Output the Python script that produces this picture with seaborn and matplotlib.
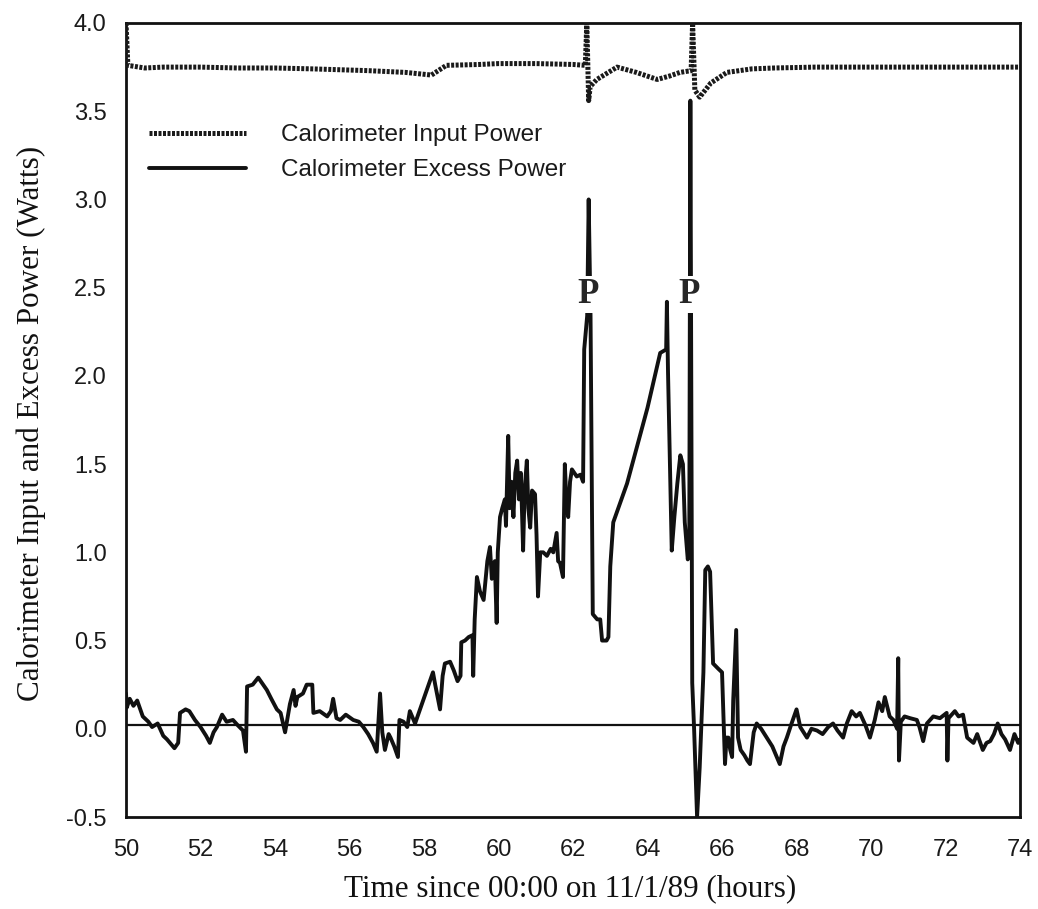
import numpy as np
import pandas as pd
import matplotlib
matplotlib.use("Agg")
import matplotlib.pyplot as plt
import seaborn as sns
from matplotlib.lines import Line2D

# ---------------- data ----------------
input_time = [50.0, 50.05, 50.5, 51.0, 52.0, 53.0, 54.0, 55.0, 56.5, 57.5, 58.2, 58.6,
              59.5, 60.0, 61.0, 62.0, 62.33, 62.37, 62.42, 62.46, 62.64, 63.18, 63.7,
              64.26, 64.6, 64.87, 65.17, 65.21, 65.27, 65.4, 65.7, 66.13, 66.8, 67.4,
              68.5, 70.0, 71.5, 73.0, 74.0]
input_power = [4.0, 3.76, 3.745, 3.75, 3.75, 3.745, 3.745, 3.74, 3.73, 3.72, 3.705, 3.76,
               3.765, 3.77, 3.77, 3.765, 3.76, 4.0, 3.56, 3.64, 3.68, 3.75, 3.72,
               3.68, 3.70, 3.72, 3.73, 4.0, 3.62, 3.58, 3.66, 3.72, 3.74, 3.745,
               3.75, 3.75, 3.75, 3.75, 3.75]

excess_time = [50.00, 50.02, 50.1, 50.2, 50.3, 50.45, 50.6, 50.7, 50.85, 51.0, 51.1, 51.3,
               51.4, 51.45, 51.6, 51.7, 51.85, 52.0, 52.15, 52.25, 52.35, 52.44, 52.58,
               52.7, 52.87, 53.0, 53.14, 53.22, 53.25, 53.4, 53.55, 53.65, 53.78, 53.9,
               54.05, 54.15, 54.27, 54.35, 54.4, 54.5, 54.55, 54.6, 54.75, 54.85, 55.0,
               55.03, 55.2, 55.4, 55.5, 55.56, 55.65, 55.75, 55.9, 56.1, 56.25, 56.37,
               56.5, 56.63, 56.73, 56.78, 56.82, 56.88, 56.95, 57.05, 57.1, 57.2, 57.3,
               57.34, 57.45, 57.55, 57.62, 57.7, 57.76, 58.24, 58.3, 58.43, 58.5, 58.56,
               58.7, 58.8, 58.9, 58.98, 59.0, 59.1, 59.2, 59.3, 59.32, 59.36, 59.42,
               59.5, 59.6, 59.7, 59.77, 59.82, 59.9, 59.95, 59.98, 60.04, 60.1, 60.17,
               60.2, 60.26, 60.3, 60.35, 60.4, 60.45, 60.5, 60.55, 60.6, 60.66, 60.7,
               60.76, 60.8, 60.85, 60.9, 60.98, 61.02, 61.06, 61.12, 61.2, 61.3, 61.4,
               61.47, 61.56, 61.6, 61.65, 61.73, 61.78, 61.82, 61.87, 61.92, 61.97,
               62.1, 62.2, 62.27, 62.3, 62.38, 62.42, 62.47, 62.5, 62.53, 62.65, 62.73,
               62.78, 62.9, 62.95, 63.0, 63.08, 63.45, 64.0, 64.34, 64.5, 64.52, 64.55,
               64.6, 64.65, 64.72, 64.8, 64.88, 64.95, 65.0, 65.08, 65.12, 65.15, 65.2,
               65.25, 65.33, 65.38, 65.4, 65.5, 65.55, 65.62, 65.68, 65.76, 65.9, 66.0,
               66.08, 66.12, 66.17, 66.22, 66.27, 66.3, 66.38, 66.43, 66.5, 66.6, 66.68,
               66.75, 66.85, 66.93, 67.05, 67.2, 67.35, 67.55, 67.65, 67.74, 67.85, 68.0,
               68.1, 68.28, 68.4, 68.55, 68.7, 68.85, 68.98, 69.1, 69.25, 69.35, 69.48,
               69.6, 69.7, 69.85, 69.97, 70.1, 70.2, 70.3, 70.37, 70.5, 70.6, 70.7,
               70.73, 70.75, 70.8, 70.9, 71.05, 71.23, 71.3, 71.4, 71.5, 71.67, 71.85,
               72.03, 72.05, 72.08, 72.25, 72.35, 72.47, 72.58, 72.75, 72.85, 73.0, 73.1,
               73.2, 73.3, 73.4, 73.5, 73.6, 73.73, 73.85, 73.95, 74.0]
excess_power = [0.20, 0.12, 0.17, 0.13, 0.16, 0.07, 0.04, 0.01, 0.03, -0.04, -0.06, -0.11,
                -0.08, 0.09, 0.11, 0.10, 0.05, 0.01, -0.04, -0.08, -0.02, 0.01, 0.08,
                0.04, 0.05, 0.02, -0.01, -0.13, 0.24, 0.25, 0.29, 0.26, 0.22, 0.17,
                0.11, 0.09, -0.02, 0.08, 0.14, 0.22, 0.13, 0.18, 0.20, 0.25, 0.25,
                0.09, 0.10, 0.07, 0.10, 0.17, 0.06, 0.05, 0.08, 0.05, 0.04, 0.01,
                -0.03, -0.08, -0.13, 0.05, 0.20, -0.02, -0.12, -0.03, -0.05, -0.10, -0.16,
                0.05, 0.04, 0.01, 0.10, 0.06, 0.03, 0.32, 0.25, 0.11, 0.30, 0.37,
                0.38, 0.33, 0.27, 0.30, 0.49, 0.50, 0.52, 0.53, 0.30, 0.62, 0.86,
                0.78, 0.73, 0.95, 1.03, 0.85, 0.95, 0.60, 1.00, 1.20, 1.25, 1.30,
                1.15, 1.66, 1.25, 1.40, 1.20, 1.45, 1.52, 1.30, 1.45, 1.01, 1.35,
                1.52, 1.25, 1.14, 1.35, 1.33, 1.10, 0.75, 1.00, 1.00, 0.98, 1.02,
                1.00, 1.11, 0.95, 0.94, 0.86, 1.50, 1.30, 1.20, 1.40, 1.47,
                1.43, 1.44, 1.40, 2.15, 2.34, 3.00, 2.34, 1.48, 0.65, 0.62, 0.62,
                0.50, 0.50, 0.52, 0.92, 1.17, 1.39, 1.82, 2.13, 2.15, 2.42, 2.02,
                1.50, 1.01, 1.20, 1.39, 1.55, 1.50, 1.17, 0.96, 1.00, 3.56, 0.26,
                0.00, -0.50, -0.30, -0.22, 0.32, 0.90, 0.92, 0.89, 0.37, 0.34, 0.32,
                -0.20, -0.05, -0.05, -0.12, -0.16, 0.16, 0.56, -0.05, -0.12, -0.15, -0.18,
                -0.20, -0.02, 0.03, 0.00, -0.05, -0.10, -0.20, -0.10, -0.05, 0.02, 0.11,
                0.01, -0.05, 0.00, -0.01, -0.03, 0.01, 0.03, -0.01, -0.05, 0.03, 0.10,
                0.07, 0.09, 0.02, -0.05, 0.05, 0.15, 0.10, 0.18, 0.07, 0.05, 0.00,
                0.40, -0.18, 0.04, 0.07, 0.06, 0.05, 0.01, -0.07, 0.03, 0.07, 0.06,
                0.09, -0.18, 0.06, 0.10, 0.07, 0.08, -0.05, -0.08, -0.03, -0.12, -0.08,
                -0.07, -0.03, 0.03, -0.03, -0.06, -0.12, -0.03, -0.08, -0.06]

x_ticks = [50, 52, 54, 56, 58, 60, 62, 64, 66, 68, 70, 72, 74]
y_ticks = [-0.5, 0.0, 0.5, 1.0, 1.5, 2.0, 2.5, 3.0, 3.5, 4.0]
peak_labels = ["P", "P"]
peak_x = [62.4, 65.12]
peak_y = [2.46, 2.46]
zero_level = 0.02

series_labels = ["Calorimeter Input Power", "Calorimeter Excess Power"]

# ---------------- plot ----------------
sns.set_theme(style="white")
plt.rcParams["font.family"] = ["Liberation Sans", "DejaVu Sans"]

fig = plt.figure(figsize=(10.38, 9.09), dpi=100)
ax = fig.add_axes([0.1214, 0.1012, 0.8613, 0.8735])

df_in = pd.DataFrame({"t": input_time, "p": input_power})
df_ex = pd.DataFrame({"t": excess_time, "p": excess_power})

dotted = (0, (0.6, 0.3))
sns.lineplot(data=df_in, x="t", y="p", ax=ax, color="#1a1a1a", lw=3.6,
             estimator=None, sort=False, linestyle=dotted, zorder=3)
sns.lineplot(data=df_ex, x="t", y="p", ax=ax, color="#111111", lw=2.8,
             estimator=None, sort=False, zorder=3)
ax.axhline(zero_level, color="#111111", lw=1.6, zorder=2)

for lab, px, py in zip(peak_labels, peak_x, peak_y):
    ax.text(px, py, lab, family=["Liberation Serif"], fontweight="bold", fontsize=25,
            ha="center", va="center", zorder=6,
            bbox=dict(facecolor="white", edgecolor="none", pad=1.5))

ax.set_xlim(50, 74)
ax.set_ylim(-0.5, 4.0)
ax.set_xticks(x_ticks)
ax.set_xticklabels([str(v) for v in x_ticks])
ax.set_yticks(y_ticks)
ax.set_yticklabels([f"{v:.1f}" for v in y_ticks])
ax.tick_params(axis="both", length=0, colors="#1a1a1a")
ax.tick_params(axis="x", pad=16, labelsize=17)
ax.tick_params(axis="y", pad=14, labelsize=17)

for s in ax.spines.values():
    s.set_visible(True)
    s.set_color("#111111")
    s.set_linewidth(2.0)

ax.set_xlabel("Time since 00:00 on 11/1/89 (hours)", family=["Liberation Serif"],
              fontsize=22.4, color="#111111")
ax.set_ylabel("Calorimeter Input and Excess Power (Watts)", family=["Liberation Serif"],
              fontsize=22.4, color="#111111")
ax.xaxis.set_label_coords(0.497, -0.072)
ax.yaxis.set_label_coords(-0.089, 0.496)

handles = [Line2D([], [], color="#1a1a1a", lw=3.6, linestyle=dotted),
           Line2D([], [], color="#111111", lw=2.8)]
leg = ax.legend(handles, series_labels, loc="upper left", bbox_to_anchor=(0.0145, 0.885),
                frameon=False, fontsize=17.5, handlelength=4.0, handletextpad=1.45,
                labelspacing=0.55, borderaxespad=0.0)
for t in leg.get_texts():
    t.set_color("#1a1a1a")

fig.savefig("out.png", dpi=100, facecolor="white")
